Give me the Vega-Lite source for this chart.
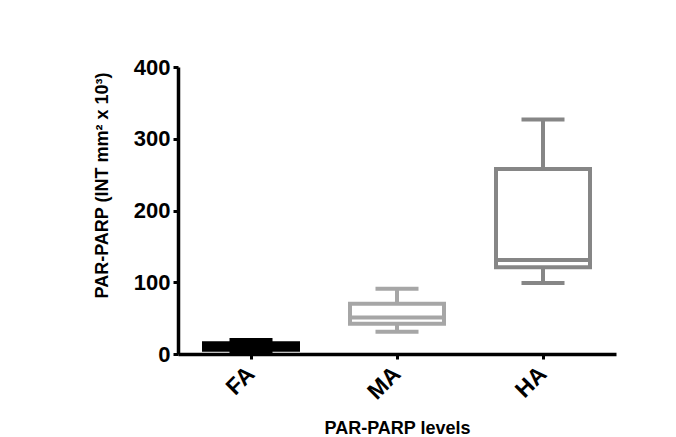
{
  "$schema": "https://vega.github.io/schema/vega-lite/v6.json",
  "autosize": "none",
  "width": 438,
  "height": 287,
  "padding": {"left": 178, "top": 67, "right": 60, "bottom": 83},
  "background": "white",
  "config": {
    "view": {"stroke": null},
    "font": "Liberation Sans"
  },
  "data": {
    "values": [
      {"group": "FA", "min": 3, "q1": 6, "median": 10, "q3": 15, "max": 19.5},
      {"group": "MA", "min": 31, "q1": 42, "median": 51, "q3": 70, "max": 91},
      {"group": "HA", "min": 99, "q1": 121, "median": 131, "q3": 258, "max": 327}
    ]
  },
  "encoding": {
    "x": {
      "field": "group",
      "type": "nominal",
      "sort": ["FA", "MA", "HA"],
      "scale": {"paddingInner": 0, "paddingOuter": 0},
      "axis": {
        "title": "PAR-PARP levels",
        "titleFont": "Liberation Sans",
        "titleFontSize": 18,
        "titleFontWeight": "bold",
        "titleColor": "black",
        "titleBaseline": "alphabetic",
        "titleY": 79,
        "labelAngle": -45,
        "labelAlign": "right",
        "labelBaseline": "middle",
        "labelPadding": 11,
        "labelFontSize": 23,
        "labelFontWeight": "bold",
        "labelColor": "black",
        "domainColor": "black",
        "domainWidth": 3.5,
        "tickColor": "black",
        "tickWidth": 3,
        "tickSize": 5,
        "grid": false
      }
    },
    "color": {
      "field": "group",
      "type": "nominal",
      "scale": {"domain": ["FA", "MA", "HA"], "range": ["#000000", "#a6a6a6", "#868686"]},
      "legend": null
    }
  },
  "layer": [
    {
      "mark": {"type": "rule", "strokeWidth": 4},
      "encoding": {
        "y": {
          "field": "min",
          "type": "quantitative",
          "scale": {"domain": [0, 400], "nice": false},
          "axis": {
            "title": "PAR-PARP (INT mm² x 10³)",
            "titleFont": "Liberation Sans",
            "titleFontSize": 18,
            "titleFontWeight": "bold",
            "titleColor": "black",
            "titleAngle": -90,
            "titleAlign": "center",
            "titleBaseline": "middle",
            "titleX": -76,
            "titleY": 118,
            "values": [0, 100, 200, 300, 400],
            "labelFontSize": 22,
            "labelFontWeight": "bold",
            "labelColor": "black",
            "labelPadding": 3,
            "domainColor": "black",
            "domainWidth": 3.5,
            "tickColor": "black",
            "tickWidth": 3,
            "tickSize": 5,
            "grid": false
          }
        },
        "y2": {"field": "max"}
      }
    },
    {
      "mark": {"type": "bar", "fill": "white", "strokeWidth": 4, "width": 94},
      "encoding": {
        "y": {"field": "q1", "type": "quantitative"},
        "y2": {"field": "q3"},
        "stroke": {"field": "group", "type": "nominal", "scale": {"domain": ["FA", "MA", "HA"], "range": ["#000000", "#a6a6a6", "#868686"]}, "legend": null}
      }
    },
    {
      "mark": {"type": "tick", "size": 94, "thickness": 4, "opacity": 1},
      "encoding": {"y": {"field": "median", "type": "quantitative"}}
    },
    {
      "mark": {"type": "tick", "size": 43, "thickness": 4, "opacity": 1},
      "encoding": {"y": {"field": "max", "type": "quantitative"}}
    },
    {
      "mark": {"type": "tick", "size": 43, "thickness": 4, "opacity": 1},
      "encoding": {"y": {"field": "min", "type": "quantitative"}}
    }
  ]
}
